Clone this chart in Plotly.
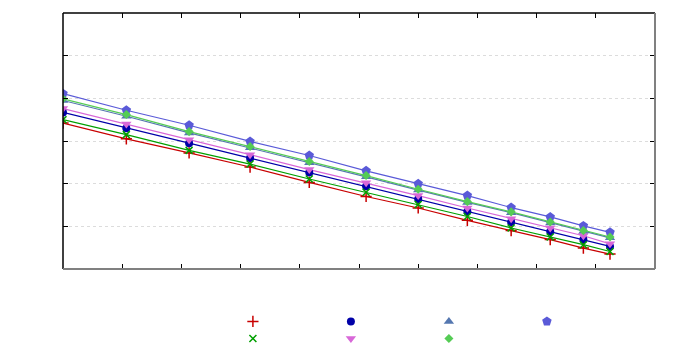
import plotly.graph_objects as go

# x positions of the samples
x = [0.0, 1.07, 2.13, 3.16, 4.16, 5.12, 6.0, 6.83, 7.57, 8.23, 8.79, 9.24]

# series values
plus_y = [3.42, 3.05, 2.72, 2.39, 2.03, 1.70, 1.43, 1.14, 0.90, 0.69, 0.49, 0.35]
circle_y = [3.67, 3.30, 2.95, 2.60, 2.26, 1.94, 1.64, 1.35, 1.10, 0.88, 0.69, 0.53]
tri_up_y = [3.95, 3.58, 3.19, 2.84, 2.49, 2.16, 1.85, 1.56, 1.32, 1.08, 0.88, 0.73]
pent_y = [4.11, 3.72, 3.37, 2.99, 2.66, 2.30, 2.00, 1.72, 1.44, 1.22, 1.01, 0.86]
cross_y = [3.50, 3.15, 2.78, 2.46, 2.11, 1.80, 1.51, 1.23, 0.96, 0.75, 0.57, 0.41]
tri_down_y = [3.76, 3.40, 3.03, 2.68, 2.33, 2.02, 1.72, 1.43, 1.18, 0.96, 0.78, 0.59]
diamond_y = [3.99, 3.62, 3.22, 2.87, 2.52, 2.19, 1.87, 1.58, 1.34, 1.10, 0.90, 0.75]

# (values, symbol, colour, legend row)
series = [
    (plus_y, "cross-thin", "#c80000", "legend"),
    (circle_y, "circle", "#0000a8", "legend"),
    (tri_up_y, "triangle-up", "#5577b0", "legend"),
    (pent_y, "pentagon", "#5a5ad8", "legend"),
    (cross_y, "x-thin", "#00a000", "legend2"),
    (tri_down_y, "triangle-down", "#d868d8", "legend2"),
    (diamond_y, "diamond", "#55cc55", "legend2"),
]
marker_size = {"cross-thin": 8, "circle": 8, "triangle-up": 9, "pentagon": 10,
               "x-thin": 7, "triangle-down": 9, "diamond": 7}

fig = go.Figure()

# connecting lines, kept out of the legend
for ys, sym, col, leg in series:
    fig.add_trace(go.Scatter(x=x, y=ys, mode="lines",
                             line=dict(color=col, width=1.2),
                             showlegend=False, hoverinfo="skip"))

# markers
for ys, sym, col, leg in series:
    thin = sym.endswith("-thin")
    fig.add_trace(go.Scatter(
        x=x, y=ys, mode="markers", name=" ", legend=leg,
        marker=dict(symbol=sym, size=marker_size[sym], color=col,
                    line=dict(color=col, width=1.5 if thin else 0))
    ))

axis_common = dict(ticks="inside", ticklen=5, tickcolor="black",
                   showticklabels=False, zeroline=False, showline=False,
                   mirror="ticks", automargin=False)

legend_common = dict(orientation="h", x=0.287, xanchor="left",
                     yanchor="top", entrywidth=53, entrywidthmode="pixels",
                     tracegroupgap=0, itemwidth=30, font=dict(size=8),
                     bgcolor="rgba(0,0,0,0)")

fig.update_layout(
    width=675, height=350,
    margin=dict(l=55, r=28, t=5, b=89, autoexpand=False),
    plot_bgcolor="white", paper_bgcolor="white",
    xaxis=dict(range=[0, 10], dtick=1, showgrid=False, **axis_common),
    yaxis=dict(range=[0, 6], dtick=1, showgrid=True, gridcolor="#dcdcdc",
               griddash="dot", gridwidth=1, **axis_common),
    legend=dict(y=-0.148, **legend_common),
    legend2=dict(y=-0.215, **legend_common),
    shapes=[
        dict(type="line", xref="paper", yref="paper", x0=0, x1=0, y0=0, y1=1,
             line=dict(color="black", width=1.5)),
        dict(type="line", xref="paper", yref="paper", x0=0, x1=1, y0=1, y1=1,
             line=dict(color="black", width=1.5)),
        dict(type="line", xref="paper", yref="paper", x0=0, x1=1, y0=0, y1=0,
             line=dict(color="#808080", width=2)),
        dict(type="line", xref="paper", yref="paper", x0=1, x1=1, y0=0, y1=1,
             line=dict(color="#808080", width=2)),
    ],
)

fig.write_html("out.html")
